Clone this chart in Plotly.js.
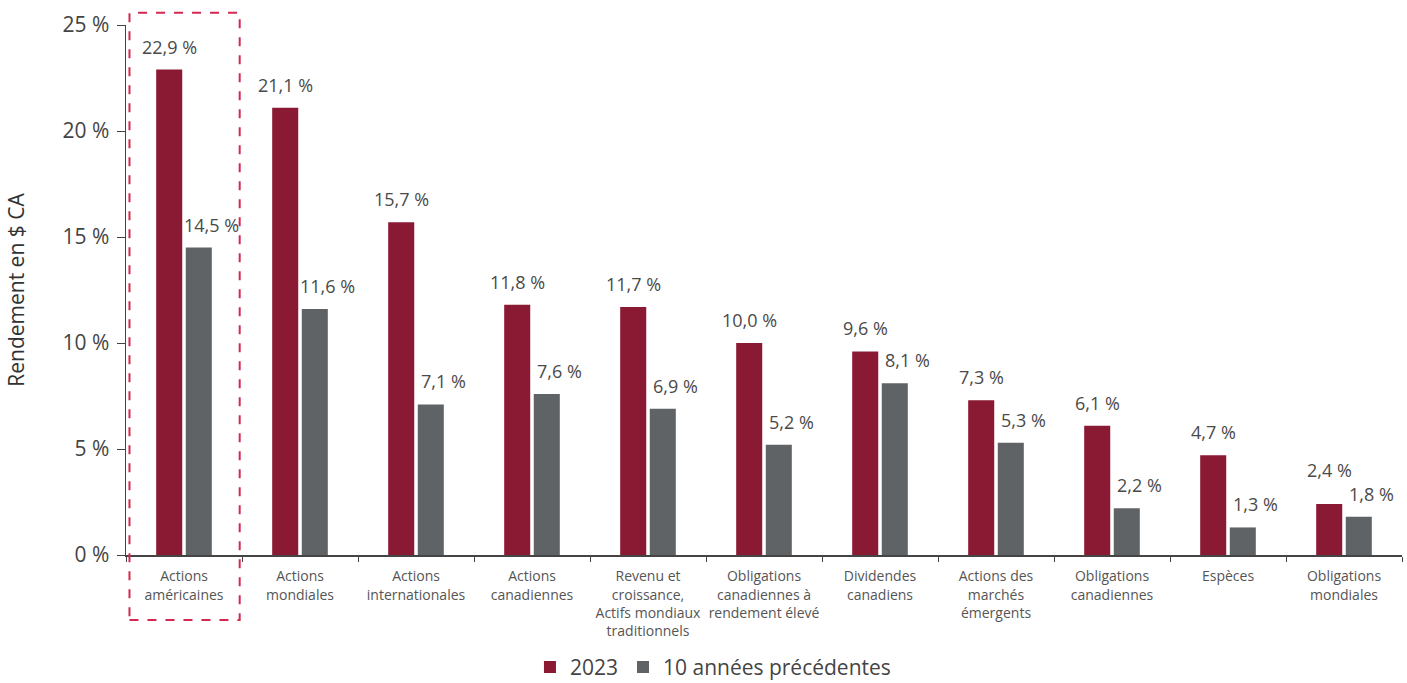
<!DOCTYPE html>
<html>
<head>
<meta charset="utf-8">
<script src="https://cdn.plot.ly/plotly-3.0.1.min.js"></script>
<style>html,body{margin:0;padding:0;background:#fff;}#chart{width:1407px;height:683px;}</style>
</head>
<body>
<div id="chart"></div>
<script>
const categories = [
  "Actions<br>américaines",
  "Actions<br>mondiales",
  "Actions<br>internationales",
  "Actions<br>canadiennes",
  "Revenu et<br>croissance,<br>Actifs mondiaux<br>traditionnels",
  "Obligations<br>canadiennes à<br>rendement élevé",
  "Dividendes<br>canadiens",
  "Actions des<br>marchés<br>émergents",
  "Obligations<br>canadiennes",
  "Espèces",
  "Obligations<br>mondiales"
];
const values2023 = [22.9, 21.1, 15.7, 11.8, 11.7, 10.0, 9.6, 7.3, 6.1, 4.7, 2.4];
const values10y  = [14.5, 11.6, 7.1, 7.6, 6.9, 5.2, 8.1, 5.3, 2.2, 1.3, 1.8];
const seriesNames = ["2023", "10 années précédentes"];
const yTicks = [0, 5, 10, 15, 20, 25];
const yTickText = yTicks.map(v => v + " %");

const FONT = "'Open Sans', Lato, sans-serif";
const labelFont = {family: FONT, size: 18, color: "#4a4a4a"};
const fmt = v => v.toFixed(1).replace(".", ",") + " %";

const traces = [
  {type: "bar", name: seriesNames[0], x: categories, y: values2023,
   marker: {color: "#8a1933"}, hoverinfo: "none"},
  {type: "bar", name: seriesNames[1], x: categories, y: values10y,
   marker: {color: "#5f6366"}, hoverinfo: "none"}
];

// value labels placed through the axes (data coords) with pixel shifts
const annotations = [];
categories.forEach((c, i) => {
  const a = values2023[i], b = values10y[i];
  const close = Math.abs(a - b) < 1;
  annotations.push({x: c, y: a, xref: "x", yref: "y", text: fmt(a), showarrow: false,
    xshift: -15, yshift: close ? 34 : 23, yanchor: "middle", font: labelFont});
  annotations.push({x: c, y: b, xref: "x", yref: "y", text: fmt(b), showarrow: false,
    xshift: 27, yshift: 23, yanchor: "middle", font: labelFont});
});

const layout = {
  width: 1407, height: 683,
  margin: {l: 126, r: 5, t: 25, b: 128, autoexpand: false},
  paper_bgcolor: "#fff", plot_bgcolor: "#fff",
  separators: ", ",
  barmode: "group",
  bargap: 0.49,
  bargroupgap: 0.12,
  font: {family: FONT, color: "#444"},
  xaxis: {
    type: "category",
    showline: true, linecolor: "#444", linewidth: 1.5,
    ticks: "outside", tickson: "boundaries", ticklen: 5, tickcolor: "#444",
    tickangle: 0, ticklabelstandoff: 8,
    tickfont: {family: FONT, size: 14, color: "#555"},
    showgrid: false, automargin: false
  },
  yaxis: {
    range: [0, 25], tickmode: "array", tickvals: yTicks, ticktext: yTickText,
    showline: true, linecolor: "#444", linewidth: 1.5,
    ticks: "outside", ticklen: 8, tickcolor: "#444", ticklabelstandoff: 3,
    tickfont: {family: FONT, size: 21, color: "#444"},
    showgrid: false, zeroline: false, automargin: false,
    title: {text: "Rendement en $ CA", font: {family: FONT, size: 21, color: "#333"}, standoff: 32}
  },
  legend: {
    orientation: "h", x: 0.46, xanchor: "center", y: -0.212, yanchor: "middle",
    font: {family: FONT, size: 21, color: "#444"}, traceorder: "normal"
  },
  annotations: annotations,
  shapes: [{
    type: "rect", xref: "x", yref: "paper",
    x0: -0.47, x1: 0.48, y0: -0.1226, y1: 1.023,
    line: {color: "#d3294f", width: 2, dash: "dash"}, fillcolor: "rgba(0,0,0,0)"
  }]
};

Plotly.newPlot("chart", traces, layout, {displayModeBar: false, staticPlot: true});
</script>
</body>
</html>
